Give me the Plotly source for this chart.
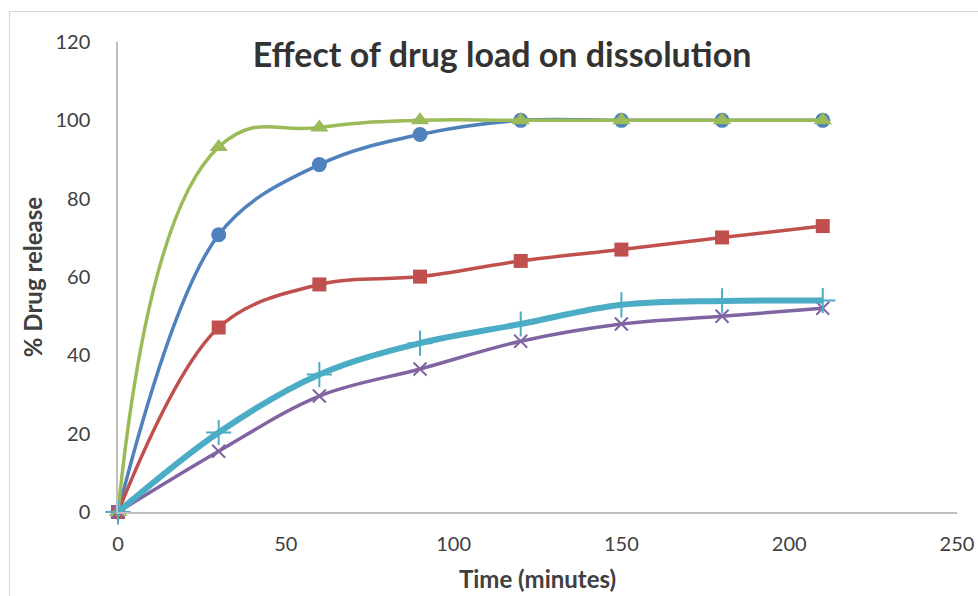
import plotly.graph_objects as go

time_min = [0, 30, 60, 90, 120, 150, 180, 210]
series_names = ["Series1", "Series2", "Series3", "Series4", "Series5"]
blue_vals = [0, 70.8, 88.7, 96.4, 100, 100, 100, 100]
red_vals = [0, 47.1, 58.1, 60.1, 64.1, 67.0, 70.1, 73.0]
green_vals = [0, 93.2, 98.2, 100, 100, 100, 100, 100]
purple_vals = [0, 15.5, 29.6, 36.5, 43.6, 48.0, 50.0, 52.0]
cyan_vals = [0, 20.3, 35.1, 43.1, 48.0, 52.9, 53.9, 54.0]

x_ticks = [0, 50, 100, 150, 200, 250]
y_ticks = [0, 20, 40, 60, 80, 100, 120]

FONT = "Lato"
fig = go.Figure()

def add(vals, name, color, width, symbol, size, mline=0, smooth=1.0):
    fig.add_trace(go.Scatter(
        x=time_min, y=vals, name=name, mode="lines+markers",
        line=dict(color=color, width=width, shape="spline", smoothing=smooth),
        marker=dict(symbol=symbol, size=size, color=color,
                    line=dict(color=color, width=mline)),
        cliponaxis=False, showlegend=False))

add(blue_vals, series_names[0], "#4F81BD", 3.5, "circle", 15)
add(red_vals, series_names[1], "#C0504D", 3.5, "square", 14)
add(green_vals, series_names[2], "#9BBB59", 3.5, "triangle-up", 16, 0, 1.3)
add(purple_vals, series_names[3], "#8064A2", 3.5, "x-thin", 13, 2)
add(cyan_vals, series_names[4], "#4BACC6", 6, "cross-thin", 18, 2)

L, R, T, B = 118, 21, 42, 84
W, H = 978, 596
pw, ph = W - L - R, H - T - B

def px2paper_x(px):
    return (px - L) / pw

def px2paper_y(py):
    return (H - B - py) / ph

fig.add_shape(type="rect", xref="paper", yref="paper",
              x0=px2paper_x(9.5), x1=px2paper_x(1000),
              y0=px2paper_y(620), y1=px2paper_y(11.5),
              line=dict(color="#D9D9D9", width=1.2), fillcolor="rgba(0,0,0,0)",
              layer="below")

fig.update_layout(
    width=W, height=H,
    margin=dict(l=L, r=R, t=T, b=B, autoexpand=False),
    paper_bgcolor="white", plot_bgcolor="white",
    font=dict(family=FONT, color="#404040"),
    title=dict(text="<b>Effect of drug load on dissolution</b>",
               font=dict(family=FONT, size=34, color="#333333"),
               x=502 / W, xanchor="center", xref="container",
               y=1 - 55 / H, yanchor="middle", yref="container"),
    xaxis=dict(range=[0, 250], tickvals=x_ticks, showgrid=False, zeroline=False,
               showline=True, linecolor="#BFBFBF", linewidth=1.5,
               ticks="", ticklabelstandoff=13, automargin=False,
               tickfont=dict(family=FONT, size=20, color="#404040"),
               title=dict(text="<b>Time (minutes)</b>", standoff=17,
                          font=dict(family=FONT, size=24, color="#404040"))),
    yaxis=dict(range=[0, 120], tickvals=y_ticks, showgrid=False, zeroline=False,
               showline=True, linecolor="#BFBFBF", linewidth=1.5,
               ticks="", ticklabelstandoff=22, automargin=False,
               tickfont=dict(family=FONT, size=20, color="#404040"),
               title=dict(text="<b>% Drug release</b>", standoff=6,
                          font=dict(family=FONT, size=24, color="#404040"))),
)

fig.write_html("out.html")
